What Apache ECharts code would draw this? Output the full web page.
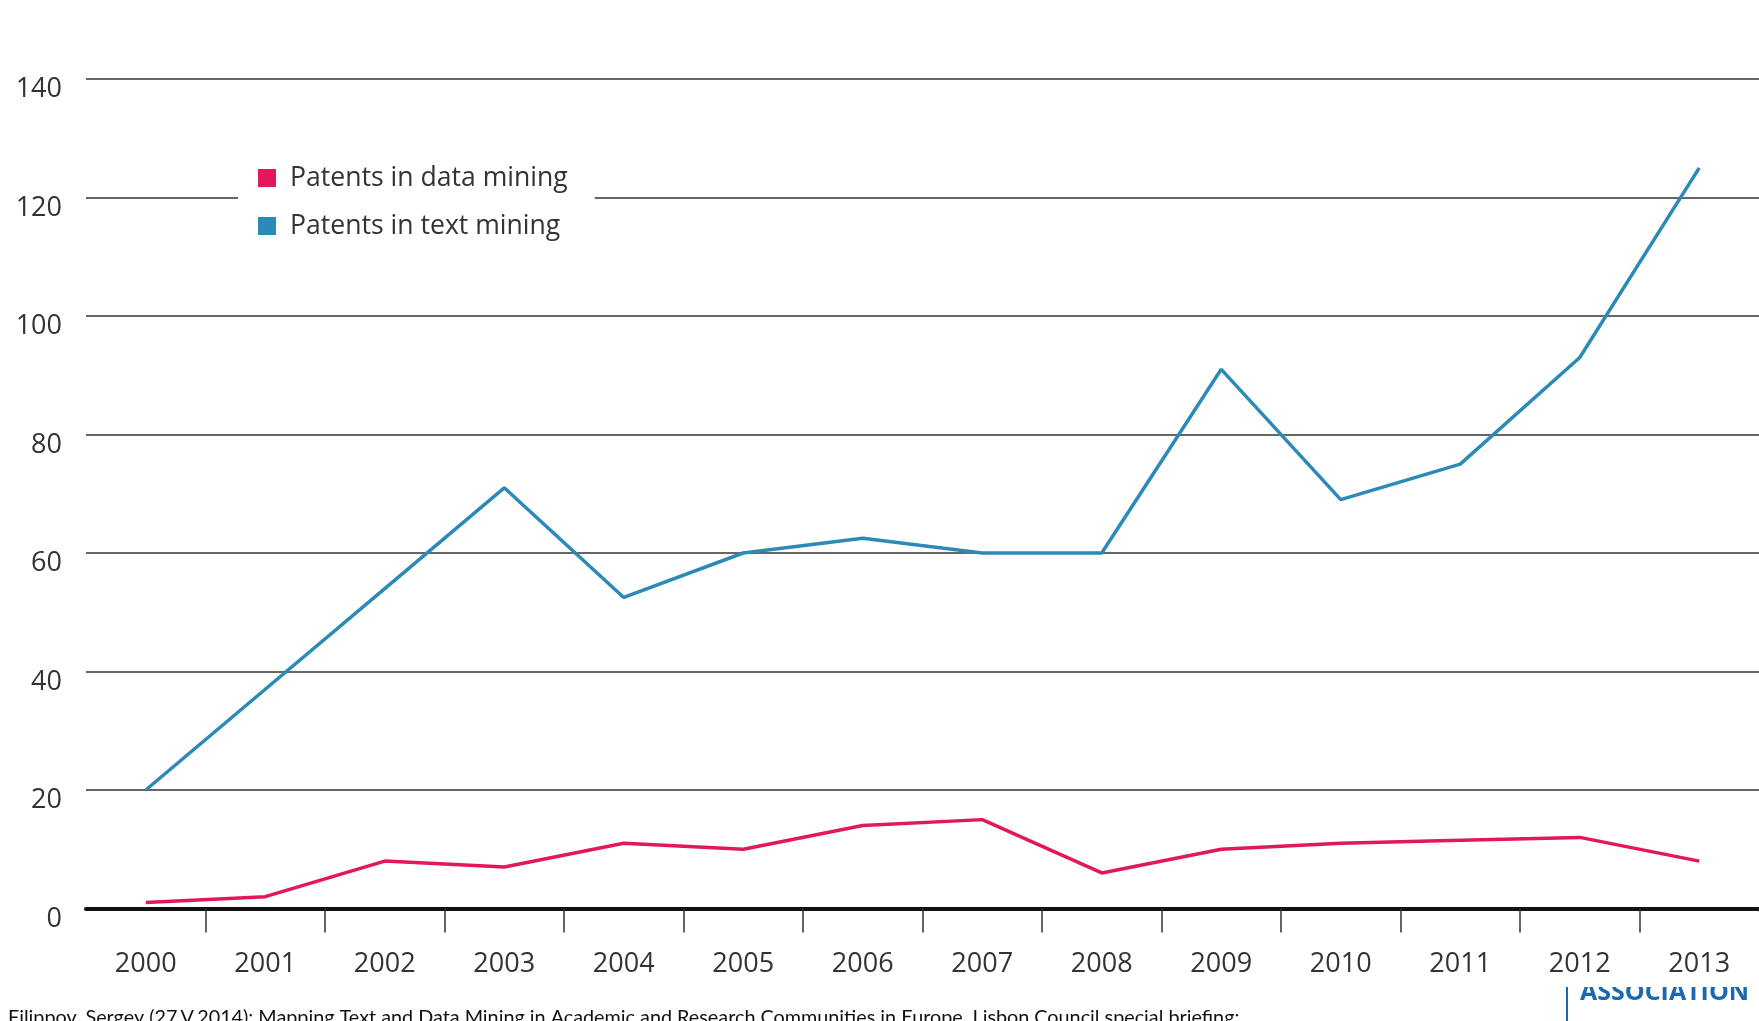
<!DOCTYPE html>
<html>
<head>
<meta charset="utf-8">
<script src="https://cdn.jsdelivr.net/npm/echarts@6/dist/echarts.min.js"></script>
<style>
html,body{margin:0;padding:0;background:#fff;}
#chart{width:1759px;height:1021px;}
</style>
</head>
<body>
<div id="chart"></div>
<script>
const years = ['2000','2001','2002','2003','2004','2005','2006','2007','2008','2009','2010','2011','2012','2013'];
const dataMining = [1, 2, 8, 7, 11, 10, 14, 15, 6, 10, 11, 11.5, 12, 8];
const textMining = [20, 37, 54, 71, 52.5, 60, 62.5, 60, 60, 91, 69, 75, 93, 125];
const seriesNames = ['Patents in data mining', 'Patents in text mining'];
const yTicks = {min: 0, max: 140, interval: 20};
const captionText = 'Filippov, Sergey (27.V.2014): Mapping Text and Data Mining in Academic and Research Communities in Europe. Lisbon Council special briefing:';
const logoText = 'ASSOCIATION';

const RED = '#e3175b';
const BLUE = '#2b8ab6';
const TXT = '#333333';
const FONT = "'Open Sans', 'Noto Sans', sans-serif";

const chart = echarts.init(document.getElementById('chart'), null, {renderer: 'canvas'});
chart.setOption({
  backgroundColor: '#ffffff',
  animation: false,
  grid: {left: 86, right: -3, top: 79, bottom: 112.5, containLabel: false},
  legend: {
    orient: 'vertical',
    left: 238,
    top: 151,
    backgroundColor: '#ffffff',
    padding: [12, 27, 12, 20],
    itemWidth: 18,
    itemHeight: 18,
    itemGap: 18,
    icon: 'rect',
    selectedMode: false,
    textStyle: {fontSize: 26.6, color: TXT, fontFamily: FONT, lineHeight: 30, padding: [0, 0, 0, 9]},
    data: seriesNames
  },
  xAxis: {
    type: 'category',
    data: years,
    boundaryGap: true,
    axisLine: {show: true, lineStyle: {color: '#111111', width: 4}},
    axisTick: {show: true, length: 24, interval: function (i) { return i > 0; }, lineStyle: {color: '#333', width: 1.5}},
    axisLabel: {margin: 42, fontSize: 27, color: TXT, fontFamily: FONT, interval: 0},
    splitLine: {show: false}
  },
  yAxis: {
    type: 'value',
    min: yTicks.min,
    max: yTicks.max,
    interval: yTicks.interval,
    axisLine: {show: false},
    axisTick: {show: false},
    axisLabel: {margin: 24, fontSize: 27, color: TXT, fontFamily: FONT, verticalAlign: 'top', lineHeight: 21},
    splitLine: {show: true, lineStyle: {color: '#333333', width: 1.5}}
  },
  series: [
    {
      name: seriesNames[0], type: 'line', data: dataMining, showSymbol: false, symbol: 'none',
      itemStyle: {color: RED}, lineStyle: {color: RED, width: 3.5}
    },
    {
      name: seriesNames[1], type: 'line', data: textMining, showSymbol: false, symbol: 'none',
      itemStyle: {color: BLUE}, lineStyle: {color: BLUE, width: 3.5}
    }
  ],
  graphic: [
    {type: 'rect', zlevel: 1, z: 100, shape: {x: 1738, y: 911.5, width: 21, height: 34}, style: {fill: '#ffffff'}},
    {type: 'text', left: 8, top: 1008, z: 10,
     style: {text: captionText, fontSize: 19.8, fontFamily: "Lato, 'Open Sans', sans-serif", fill: '#111'}},
    {type: 'line', z: 10, shape: {x1: 1567, y1: 987, x2: 1567, y2: 1021}, style: {stroke: '#1d69ad', lineWidth: 2}},
    {type: 'text', left: 1580, top: 980, z: 10,
     style: {text: logoText, fontSize: 25, fontWeight: 'bold', fontFamily: FONT, fill: '#1d69ad'}},
    {type: 'rect', z: 11, shape: {x: 1575, y: 976, width: 184, height: 11}, style: {fill: '#ffffff'}}
  ]
});
</script>
</body>
</html>
